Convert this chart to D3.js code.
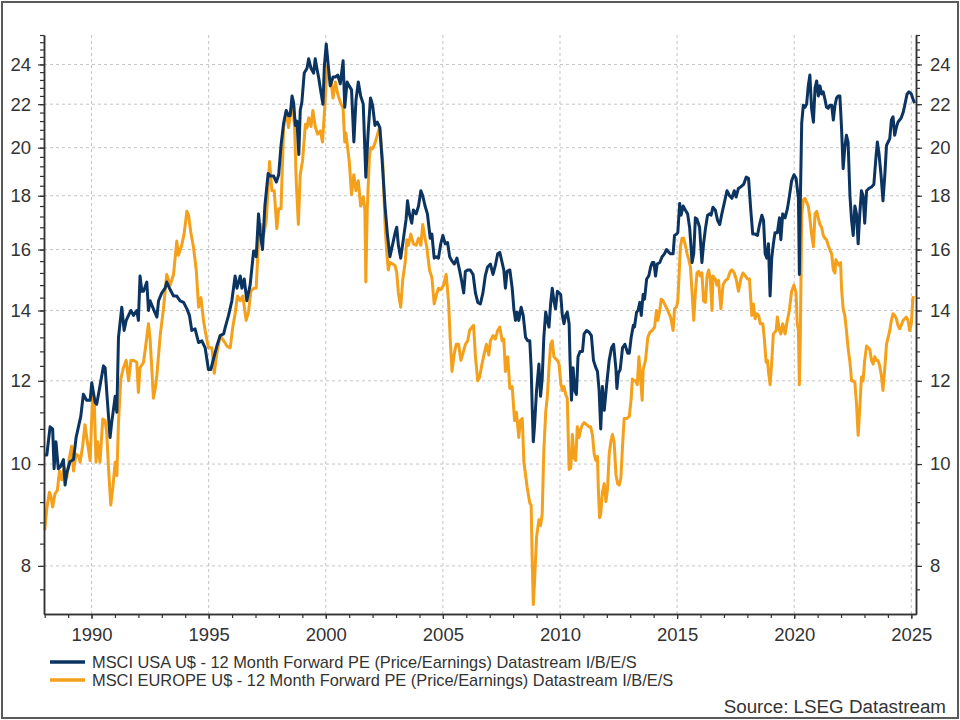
<!DOCTYPE html>
<html>
<head>
<meta charset="utf-8">
<script src="https://cdn.jsdelivr.net/npm/d3@7"></script>
<style>
  body { margin: 0; background: #fff; }
  svg { display: block; font-family: "Liberation Sans", Arial, sans-serif; }
  .tick text { fill: #333; }
</style>
</head>
<body>
<svg id="chart"></svg>
<script>
// series names (legend)
var seriesNames = [
  "MSCI USA U$ - 12 Month Forward PE (Price/Earnings) Datastream I/B/E/S",
  "MSCI EUROPE U$ - 12 Month Forward PE (Price/Earnings) Datastream I/B/E/S"
];
var seriesColors = ["#0c3461", "#f5a01a"];
var sourceText = "Source: LSEG Datastream";

// tick labels
var yTicks = [8, 10, 12, 14, 16, 18, 20, 22, 24];
var xTicks = [1990, 1995, 2000, 2005, 2010, 2015, 2020, 2025];

// [decimal year, forward PE]
var usaPE = [
 [1988.00,10.2],[1988.09,10.2],[1988.23,10.85],[1988.34,10.8],[1988.40,9.9],[1988.48,10.5],[1988.58,9.9],[1988.68,9.95],
 [1988.80,10.1],[1988.87,9.55],[1988.94,9.8],[1989.08,10.05],[1989.23,10.1],[1989.34,10.6],[1989.44,10.85],[1989.54,11.1],
 [1989.65,11.65],[1989.79,11.5],[1989.94,11.5],[1990.01,11.95],[1990.15,11.45],[1990.22,11.4],[1990.34,11.8],[1990.51,12.4],
 [1990.58,12.35],[1990.65,11.7],[1990.79,10.6],[1990.86,10.95],[1991.01,11.6],[1991.08,11.2],[1991.15,13.2],[1991.29,14.1],
 [1991.39,13.4],[1991.48,13.7],[1991.58,13.85],[1991.68,14.0],[1991.79,13.85],[1991.93,14.0],[1992.00,13.7],[1992.07,15.1],
 [1992.15,14.6],[1992.22,14.6],[1992.36,14.9],[1992.43,14.0],[1992.50,14.3],[1992.64,14.05],[1992.79,13.8],[1992.86,14.3],
 [1993.00,14.55],[1993.14,14.7],[1993.21,14.9],[1993.36,14.65],[1993.50,14.45],[1993.64,14.45],[1993.78,14.3],[1993.93,14.25],
 [1994.07,14.05],[1994.18,13.85],[1994.28,13.4],[1994.42,13.45],[1994.57,13.05],[1994.71,13.1],[1994.85,12.9],[1994.99,12.3],
 [1995.09,12.3],[1995.21,12.6],[1995.35,12.95],[1995.49,13.25],[1995.64,13.3],[1995.71,13.5],[1995.85,13.85],[1995.99,14.3],
 [1996.13,15.1],[1996.21,14.7],[1996.35,15.1],[1996.42,14.7],[1996.52,15.0],[1996.63,14.3],[1996.77,14.8],[1996.92,15.95],
 [1997.03,15.75],[1997.13,17.3],[1997.20,16.6],[1997.30,16.0],[1997.40,17.6],[1997.54,18.9],[1997.63,18.8],[1997.77,18.8],
 [1997.89,18.55],[1997.99,18.85],[1998.09,20.1],[1998.20,21.1],[1998.31,21.7],[1998.41,21.45],[1998.48,21.45],[1998.56,22.4],
 [1998.63,22.05],[1998.70,21.0],[1998.77,21.2],[1998.85,19.7],[1998.91,21.7],[1998.98,22.1],[1999.08,23.55],[1999.20,23.8],
 [1999.27,24.3],[1999.37,23.8],[1999.48,23.55],[1999.55,24.3],[1999.62,23.8],[1999.70,23.3],[1999.79,22.6],[1999.88,22.0],
 [1999.94,23.9],[2000.02,25.1],[2000.08,24.3],[2000.19,22.9],[2000.31,23.35],[2000.41,23.35],[2000.51,23.45],[2000.62,23.0],
 [2000.74,24.2],[2000.81,21.85],[2000.91,23.1],[2001.00,22.9],[2001.10,22.7],[2001.20,20.25],[2001.29,22.2],[2001.39,23.1],
 [2001.49,22.4],[2001.60,22.0],[2001.71,18.75],[2001.81,20.7],[2001.91,22.3],[2002.00,21.95],[2002.10,21.0],[2002.20,21.15],
 [2002.31,20.9],[2002.43,19.1],[2002.53,17.6],[2002.63,16.55],[2002.74,15.75],[2002.86,16.2],[2002.96,16.6],[2003.03,16.8],
 [2003.10,16.15],[2003.20,15.7],[2003.31,16.35],[2003.43,17.1],[2003.49,17.8],[2003.57,17.3],[2003.67,16.95],[2003.74,17.45],
 [2003.86,17.3],[2003.96,17.6],[2004.06,18.2],[2004.14,18.0],[2004.24,17.6],[2004.34,17.3],[2004.46,16.4],[2004.53,16.55],
 [2004.63,15.7],[2004.71,15.75],[2004.81,15.7],[2004.91,16.2],[2005.00,16.5],[2005.10,16.2],[2005.20,16.25],[2005.29,15.75],
 [2005.39,15.6],[2005.49,15.5],[2005.60,15.7],[2005.71,15.3],[2005.81,14.9],[2005.89,14.55],[2005.96,15.25],[2006.06,15.3],
 [2006.17,15.3],[2006.29,15.15],[2006.39,14.55],[2006.49,14.25],[2006.60,14.2],[2006.71,14.55],[2006.81,15.1],[2006.91,15.4],
 [2007.03,15.5],[2007.14,15.15],[2007.24,15.45],[2007.34,15.85],[2007.43,15.9],[2007.53,15.55],[2007.60,15.3],[2007.67,14.7],
 [2007.74,15.25],[2007.86,15.3],[2007.96,14.7],[2008.03,14.05],[2008.10,13.7],[2008.17,13.95],[2008.24,13.7],[2008.34,14.1],
 [2008.43,13.85],[2008.53,13.2],[2008.63,13.1],[2008.71,13.1],[2008.77,12.35],[2008.81,11.4],[2008.86,10.5],[2008.91,10.85],
 [2009.00,11.75],[2009.10,12.45],[2009.17,11.6],[2009.24,12.05],[2009.31,13.2],[2009.39,13.95],[2009.46,13.7],[2009.53,13.5],
 [2009.60,14.2],[2009.67,14.7],[2009.74,14.3],[2009.81,14.05],[2009.89,14.6],[2009.96,14.55],[2010.03,14.5],[2010.10,13.85],
 [2010.17,13.6],[2010.24,13.85],[2010.31,13.95],[2010.39,13.6],[2010.43,12.55],[2010.49,11.5],[2010.56,12.35],[2010.63,11.75],
 [2010.70,11.65],[2010.77,12.65],[2010.86,12.8],[2010.96,12.8],[2011.03,13.3],[2011.14,13.4],[2011.24,13.35],[2011.34,13.25],
 [2011.43,12.55],[2011.53,12.35],[2011.60,12.25],[2011.67,11.75],[2011.74,10.8],[2011.81,11.85],[2011.89,11.25],[2012.00,11.95],
 [2012.10,12.55],[2012.20,12.9],[2012.29,13.0],[2012.39,12.3],[2012.43,11.8],[2012.49,12.2],[2012.57,12.3],[2012.67,12.9],
 [2012.77,13.0],[2012.89,12.75],[2012.96,12.75],[2013.04,13.2],[2013.13,13.55],[2013.18,13.5],[2013.27,13.95],[2013.33,14.0],
 [2013.41,14.25],[2013.47,13.85],[2013.55,14.5],[2013.61,14.35],[2013.70,15.0],[2013.79,15.1],[2013.87,15.4],[2013.94,15.55],
 [2014.01,15.55],[2014.08,15.1],[2014.15,15.5],[2014.26,15.55],[2014.36,15.75],[2014.46,15.85],[2014.55,16.0],[2014.65,15.9],
 [2014.72,15.85],[2014.83,15.85],[2014.89,16.5],[2014.97,16.55],[2015.03,16.6],[2015.11,17.7],[2015.17,17.25],[2015.26,17.6],
 [2015.35,17.45],[2015.45,17.3],[2015.54,16.75],[2015.64,15.55],[2015.71,15.85],[2015.78,17.15],[2015.85,17.1],[2015.96,16.8],
 [2016.06,15.55],[2016.13,16.2],[2016.21,16.75],[2016.30,17.25],[2016.39,17.3],[2016.45,17.25],[2016.53,17.55],[2016.63,17.45],
 [2016.73,17.05],[2016.82,16.9],[2016.91,17.3],[2017.01,17.7],[2017.13,18.2],[2017.24,18.0],[2017.34,17.9],[2017.44,18.2],
 [2017.52,17.95],[2017.62,18.3],[2017.72,18.35],[2017.84,18.45],[2017.95,18.75],[2018.05,18.7],[2018.15,17.4],[2018.23,16.55],
 [2018.33,16.55],[2018.43,16.5],[2018.52,16.9],[2018.62,17.25],[2018.69,17.05],[2018.76,15.85],[2018.83,15.7],[2018.90,16.2],
 [2018.97,14.45],[2019.04,15.7],[2019.11,16.2],[2019.18,16.6],[2019.28,16.6],[2019.37,17.15],[2019.43,16.35],[2019.51,17.3],
 [2019.61,17.15],[2019.71,17.5],[2019.79,17.95],[2019.89,18.6],[2019.99,18.85],[2020.08,18.7],[2020.18,17.9],[2020.22,15.15],
 [2020.26,17.7],[2020.32,21.1],[2020.39,21.95],[2020.46,21.85],[2020.53,22.0],[2020.60,22.9],[2020.67,23.45],[2020.74,21.8],
 [2020.82,21.15],[2020.89,22.8],[2020.96,23.15],[2021.03,22.4],[2021.10,22.9],[2021.17,22.5],[2021.24,22.6],[2021.31,22.25],
 [2021.38,21.85],[2021.45,21.8],[2021.52,21.95],[2021.60,21.95],[2021.67,21.25],[2021.74,21.95],[2021.81,22.3],[2021.88,22.4],
 [2021.95,22.4],[2022.02,20.9],[2022.09,19.1],[2022.16,20.0],[2022.23,20.55],[2022.30,20.25],[2022.38,18.0],[2022.45,17.05],
 [2022.52,16.5],[2022.59,17.6],[2022.66,17.3],[2022.73,16.2],[2022.80,17.3],[2022.87,18.2],[2022.94,18.0],[2023.01,16.95],
 [2023.09,18.2],[2023.20,18.3],[2023.30,18.35],[2023.40,18.45],[2023.48,19.45],[2023.55,20.25],[2023.62,19.75],[2023.71,18.8],
 [2023.79,17.8],[2023.87,18.85],[2023.94,20.1],[2024.01,20.25],[2024.08,20.4],[2024.15,21.25],[2024.22,21.4],[2024.29,20.55],
 [2024.36,20.9],[2024.43,21.15],[2024.50,21.25],[2024.57,21.35],[2024.65,21.6],[2024.72,21.95],[2024.82,22.5],[2024.90,22.6],
 [2025.00,22.5],[2025.07,22.25],[2025.14,22.05]
];

var europePE = [
 [1988.00,8.65],[1988.09,9.07],[1988.20,9.4],[1988.26,9.33],[1988.34,9.1],[1988.44,9.37],[1988.54,9.44],[1988.63,9.85],
 [1988.73,9.66],[1988.83,9.92],[1988.94,9.7],[1989.05,10.13],[1989.15,10.4],[1989.23,9.85],[1989.34,10.22],[1989.44,10.18],
 [1989.51,10.04],[1989.62,10.4],[1989.72,10.9],[1989.82,10.5],[1989.94,10.08],[1990.05,11.7],[1990.12,11.4],[1990.19,10.04],
 [1990.26,10.5],[1990.36,10.04],[1990.48,11.04],[1990.58,11.0],[1990.65,10.7],[1990.72,9.95],[1990.82,9.14],[1990.91,9.5],
 [1991.01,10.04],[1991.08,9.75],[1991.15,10.95],[1991.25,12.05],[1991.36,12.35],[1991.48,12.55],[1991.58,12.0],[1991.68,12.55],
 [1991.79,12.55],[1991.93,12.5],[1992.00,11.7],[1992.07,12.35],[1992.22,12.5],[1992.33,13.05],[1992.43,13.6],[1992.50,13.15],
 [1992.57,12.35],[1992.64,11.55],[1992.72,11.8],[1992.79,12.15],[1992.93,13.25],[1993.07,14.05],[1993.21,15.15],[1993.36,14.8],
 [1993.50,15.15],[1993.64,16.3],[1993.71,15.8],[1993.85,16.15],[1993.95,16.55],[1994.07,17.4],[1994.14,17.25],[1994.24,16.6],
 [1994.35,16.1],[1994.47,15.3],[1994.57,14.1],[1994.67,14.4],[1994.78,13.7],[1994.85,13.4],[1994.99,12.9],[1995.14,12.9],
 [1995.24,12.2],[1995.35,12.75],[1995.49,13.25],[1995.64,13.1],[1995.78,12.95],[1995.92,12.9],[1996.03,13.5],[1996.13,13.9],
 [1996.23,14.45],[1996.35,14.3],[1996.46,14.45],[1996.60,13.7],[1996.70,13.95],[1996.80,14.6],[1996.92,14.7],[1997.03,14.7],
 [1997.13,16.35],[1997.23,16.9],[1997.34,16.5],[1997.46,17.05],[1997.60,19.4],[1997.70,18.2],[1997.80,18.2],[1997.91,16.75],
 [1997.99,17.5],[1998.09,17.5],[1998.20,20.9],[1998.31,21.65],[1998.41,20.9],[1998.51,21.7],[1998.60,21.8],[1998.67,20.9],
 [1998.74,18.55],[1998.83,16.9],[1998.91,18.85],[1999.01,19.45],[1999.13,21.05],[1999.20,20.9],[1999.27,21.35],[1999.37,20.95],
 [1999.45,21.7],[1999.55,20.95],[1999.65,20.6],[1999.77,20.75],[1999.86,20.25],[1999.94,21.55],[2000.02,23.1],[2000.08,23.9],
 [2000.17,23.3],[2000.23,23.1],[2000.31,22.3],[2000.41,23.1],[2000.51,22.5],[2000.62,22.1],[2000.74,21.8],[2000.81,20.25],
 [2000.86,20.65],[2000.91,20.2],[2001.00,19.45],[2001.10,18.05],[2001.20,18.85],[2001.29,18.2],[2001.39,18.6],[2001.49,17.6],
 [2001.60,17.95],[2001.67,17.45],[2001.71,14.9],[2001.77,17.45],[2001.86,19.55],[2001.91,20.0],[2002.00,19.95],[2002.10,20.2],
 [2002.20,20.55],[2002.29,20.9],[2002.34,20.45],[2002.43,19.45],[2002.53,16.9],[2002.60,15.95],[2002.67,15.3],[2002.74,15.55],
 [2002.86,15.5],[2002.96,15.45],[2003.03,15.2],[2003.10,14.55],[2003.20,14.1],[2003.29,15.0],[2003.39,15.55],[2003.46,16.35],
 [2003.53,16.15],[2003.63,16.55],[2003.74,16.2],[2003.86,16.15],[2003.96,16.4],[2004.06,16.15],[2004.14,16.9],[2004.24,16.4],
 [2004.31,16.1],[2004.43,15.3],[2004.53,15.05],[2004.63,14.2],[2004.71,14.45],[2004.81,14.7],[2004.91,14.65],[2005.03,14.8],
 [2005.14,15.15],[2005.24,14.3],[2005.31,13.2],[2005.39,12.25],[2005.49,12.75],[2005.57,13.0],[2005.67,13.0],[2005.77,12.55],
 [2005.86,12.75],[2005.96,13.0],[2006.06,13.1],[2006.14,13.4],[2006.24,13.5],[2006.31,13.55],[2006.39,12.65],[2006.49,12.0],
 [2006.57,12.1],[2006.67,12.45],[2006.77,12.75],[2006.86,13.0],[2006.96,12.7],[2007.03,13.1],[2007.14,13.25],[2007.24,13.15],
 [2007.34,13.4],[2007.43,13.5],[2007.53,13.1],[2007.60,13.15],[2007.67,12.25],[2007.77,12.65],[2007.86,11.8],[2007.96,11.85],
 [2008.06,11.0],[2008.14,11.2],[2008.24,10.6],[2008.31,11.0],[2008.39,11.05],[2008.46,10.04],[2008.60,9.5],[2008.71,9.18],
 [2008.77,9.14],[2008.81,8.18],[2008.86,7.35],[2008.91,7.7],[2009.00,8.52],[2009.10,8.85],[2009.17,8.74],[2009.24,8.96],
 [2009.31,10.3],[2009.39,11.2],[2009.46,11.6],[2009.53,12.35],[2009.60,13.0],[2009.67,13.1],[2009.74,12.65],[2009.81,12.6],
 [2009.89,12.55],[2009.96,12.45],[2010.03,11.95],[2010.10,11.75],[2010.17,11.85],[2010.24,11.65],[2010.31,11.55],[2010.39,9.88],
 [2010.46,9.92],[2010.53,10.67],[2010.60,10.13],[2010.67,10.08],[2010.74,10.85],[2010.81,10.6],[2010.89,10.8],[2010.96,10.9],
 [2011.03,10.95],[2011.14,10.9],[2011.24,10.85],[2011.31,10.85],[2011.39,10.65],[2011.46,10.22],[2011.53,10.08],[2011.60,10.17],
 [2011.64,9.44],[2011.69,8.89],[2011.74,8.96],[2011.81,9.4],[2011.89,9.58],[2011.96,9.21],[2012.03,9.47],[2012.10,10.22],
 [2012.17,10.5],[2012.24,10.67],[2012.31,10.5],[2012.39,9.77],[2012.46,9.58],[2012.53,9.55],[2012.60,9.7],[2012.67,10.4],
 [2012.74,11.05],[2012.86,11.05],[2012.96,11.1],[2013.04,11.55],[2013.09,12.05],[2013.16,12.0],[2013.23,12.0],[2013.30,11.9],
 [2013.37,12.65],[2013.44,12.05],[2013.51,11.5],[2013.55,12.3],[2013.65,12.55],[2013.75,13.2],[2013.84,13.35],[2013.94,13.4],
 [2014.04,13.5],[2014.12,14.0],[2014.18,13.7],[2014.26,14.0],[2014.32,14.35],[2014.40,14.3],[2014.50,14.15],[2014.60,14.0],
 [2014.72,13.8],[2014.83,13.4],[2014.89,14.05],[2014.97,14.1],[2015.03,14.3],[2015.09,15.2],[2015.14,16.1],[2015.21,16.4],
 [2015.28,16.4],[2015.35,16.15],[2015.43,15.85],[2015.50,15.65],[2015.57,15.4],[2015.64,14.55],[2015.71,13.7],[2015.78,14.55],
 [2015.85,15.2],[2015.92,15.25],[2015.99,15.1],[2016.06,15.2],[2016.13,14.3],[2016.21,14.25],[2016.28,15.1],[2016.35,15.3],
 [2016.42,15.0],[2016.49,14.0],[2016.53,15.1],[2016.63,15.0],[2016.70,14.8],[2016.77,14.95],[2016.87,14.05],[2016.96,14.8],
 [2017.06,14.95],[2017.16,15.0],[2017.27,15.25],[2017.34,15.3],[2017.44,15.2],[2017.52,15.0],[2017.62,14.6],[2017.72,15.0],
 [2017.81,15.2],[2017.91,15.1],[2018.01,15.0],[2018.09,15.0],[2018.15,14.3],[2018.19,13.85],[2018.26,14.2],[2018.33,13.75],
 [2018.40,13.9],[2018.48,13.85],[2018.55,13.6],[2018.66,13.6],[2018.72,13.2],[2018.80,12.5],[2018.86,12.55],[2018.90,12.25],
 [2018.97,11.9],[2019.04,12.5],[2019.11,13.3],[2019.23,13.4],[2019.28,13.8],[2019.37,13.4],[2019.43,13.3],[2019.51,13.6],
 [2019.61,13.3],[2019.68,13.6],[2019.79,14.0],[2019.89,14.6],[2019.99,14.8],[2020.08,14.55],[2020.13,13.6],[2020.18,13.4],
 [2020.22,11.9],[2020.26,13.1],[2020.32,17.25],[2020.39,17.85],[2020.46,17.9],[2020.53,17.75],[2020.60,17.6],[2020.67,17.15],
 [2020.74,16.55],[2020.82,16.1],[2020.89,17.3],[2020.96,17.4],[2021.03,17.15],[2021.10,16.9],[2021.17,16.8],[2021.24,16.5],
 [2021.31,16.4],[2021.38,16.35],[2021.45,16.15],[2021.52,16.0],[2021.60,15.85],[2021.67,15.3],[2021.74,15.2],[2021.78,15.65],
 [2021.84,15.55],[2021.92,15.45],[2021.98,15.55],[2022.02,14.7],[2022.09,14.05],[2022.16,13.85],[2022.23,13.4],[2022.30,12.9],
 [2022.38,12.5],[2022.45,12.0],[2022.52,12.0],[2022.59,11.95],[2022.66,11.4],[2022.73,10.65],[2022.80,11.3],[2022.87,12.1],
 [2022.94,12.0],[2023.01,12.55],[2023.09,12.95],[2023.16,12.9],[2023.23,12.85],[2023.30,12.55],[2023.37,12.45],[2023.44,12.65],
 [2023.51,12.55],[2023.58,12.55],[2023.65,12.4],[2023.72,12.15],[2023.79,11.75],[2023.87,12.35],[2023.94,13.0],[2024.01,13.2],
 [2024.08,13.4],[2024.15,13.7],[2024.22,13.9],[2024.29,13.85],[2024.36,13.75],[2024.43,13.55],[2024.50,13.45],[2024.57,13.55],
 [2024.65,13.7],[2024.72,13.75],[2024.79,13.8],[2024.86,13.7],[2024.93,13.4],[2025.00,13.6],[2025.07,14.4],[2025.14,14.4]
];

var screen = {width: 960, height: 720};
var margins = {left: 44, right: 44, top: 35, bottom: 106};
var graph = {
  width: screen.width - margins.left - margins.right,
  height: screen.height - margins.top - margins.bottom
};

var svg = d3.select("#chart")
  .attr("width", screen.width)
  .attr("height", screen.height);

svg.append("rect")
  .attr("x", 0).attr("y", 0)
  .attr("width", screen.width).attr("height", screen.height)
  .attr("fill", "#fff");

// frame round the picture
svg.append("rect")
  .attr("x", 2).attr("y", 2)
  .attr("width", screen.width - 4).attr("height", screen.height - 4)
  .attr("fill", "none")
  .attr("stroke", "#5a5a5a")
  .attr("stroke-width", 2);

var xScale = d3.scaleLinear()
  .domain([1987.97, 2025.2])
  .range([0, graph.width]);

var yScale = d3.scaleLog()
  .domain([7.2, 25.6])
  .range([graph.height, 0]);

var target = svg.append("g")
  .attr("transform", "translate(" + margins.left + "," + margins.top + ")");

// minor tick values
var yMinor = d3.range(7.6, 25.61, 0.4).map(function(v) { return Math.round(v * 10) / 10; });
var xMinor = d3.range(1988, 2026);

// grid
var grid = target.append("g").attr("class", "grid");
grid.selectAll("line.h")
  .data(yTicks).enter().append("line")
  .attr("x1", 0).attr("x2", graph.width)
  .attr("y1", function(d) { return yScale(d); })
  .attr("y2", function(d) { return yScale(d); })
  .attr("stroke", "#c4c4c4").attr("stroke-dasharray", "3,3");
grid.selectAll("line.v")
  .data(xTicks).enter().append("line")
  .attr("y1", 0).attr("y2", graph.height)
  .attr("x1", function(d) { return xScale(d); })
  .attr("x2", function(d) { return xScale(d); })
  .attr("stroke", "#c4c4c4").attr("stroke-dasharray", "3,3");

// lines (Europe under USA)
var line = d3.line()
  .x(function(d) { return xScale(d[0]); })
  .y(function(d) { return yScale(d[1]); });

[europePE, usaPE].forEach(function(series, i) {
  target.append("path")
    .datum(series)
    .attr("d", line)
    .attr("fill", "none")
    .attr("stroke", i === 0 ? seriesColors[1] : seriesColors[0])
    .attr("stroke-width", 3)
    .attr("stroke-linejoin", "round");
});

// axes
var axisColor = "#333";
var styleAxis = function(g) {
  g.selectAll("path").attr("stroke", axisColor).attr("stroke-width", 1.5);
  g.selectAll("line").attr("stroke", axisColor).attr("stroke-width", 1.2);
  g.selectAll("text").attr("fill", "#333").style("font-size", "18.5px")
    .style("font-family", "'Liberation Sans', Arial, sans-serif");
};

var minorLeft = target.append("g")
  .call(d3.axisLeft(yScale).tickValues(yMinor).tickFormat("").tickSize(4).tickSizeOuter(0));
var majorLeft = target.append("g")
  .call(d3.axisLeft(yScale).tickValues(yTicks).tickFormat(d3.format("d")).tickSize(6).tickPadding(7).tickSizeOuter(0));
var minorRight = target.append("g")
  .attr("transform", "translate(" + graph.width + ",0)")
  .call(d3.axisRight(yScale).tickValues(yMinor).tickFormat("").tickSize(4).tickSizeOuter(0));
var majorRight = target.append("g")
  .attr("transform", "translate(" + graph.width + ",0)")
  .call(d3.axisRight(yScale).tickValues(yTicks).tickFormat(d3.format("d")).tickSize(6).tickPadding(8).tickSizeOuter(0));
var minorBottom = target.append("g")
  .attr("transform", "translate(0," + graph.height + ")")
  .call(d3.axisBottom(xScale).tickValues(xMinor).tickFormat("").tickSize(4).tickSizeOuter(0));
var majorBottom = target.append("g")
  .attr("transform", "translate(0," + graph.height + ")")
  .call(d3.axisBottom(xScale).tickValues(xTicks).tickFormat(d3.format("d")).tickSize(5).tickPadding(9).tickSizeOuter(0));

[minorLeft, majorLeft, minorRight, majorRight, minorBottom, majorBottom].forEach(styleAxis);

// legend
var legend = svg.append("g")
  .attr("transform", "translate(50,662)");
seriesNames.forEach(function(name, i) {
  var row = legend.append("g").attr("transform", "translate(0," + (i * 18) + ")");
  row.append("line")
    .attr("x1", 0).attr("x2", 35)
    .attr("y1", 0).attr("y2", 0)
    .attr("stroke", seriesColors[i])
    .attr("stroke-width", 3.5);
  row.append("text")
    .attr("x", 42).attr("y", 0).attr("dy", "0.35em")
    .attr("fill", "#333")
    .style("font-size", "16.4px")
    .text(name);
});

// source
svg.append("text")
  .attr("x", 946).attr("y", 713)
  .attr("text-anchor", "end")
  .attr("fill", "#333")
  .style("font-size", "18.8px")
  .text(sourceText);
</script>
</body>
</html>
